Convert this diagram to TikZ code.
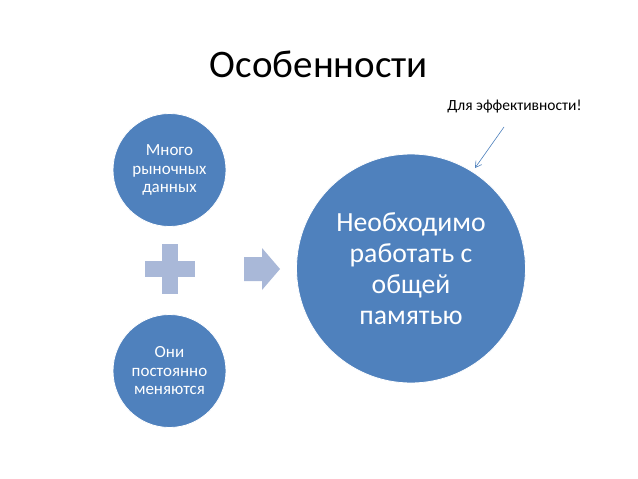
\documentclass[tikz,border=0pt]{standalone}
\usepackage{fontspec}
\setmainfont{Carlito}
\usetikzlibrary{arrows.meta}
\definecolor{cblue}{HTML}{4F81BD}
\definecolor{cpale}{HTML}{A9B8D8}
\definecolor{carrow}{HTML}{4A7EBB}
\tikzset{
  circ/.style={circle, fill=cblue, draw=white, line width=0.8pt, inner sep=0pt, text=white, align=center},
  smallc/.style={circ, minimum size=113pt, font=\fontsize{17}{18.5}\selectfont},
  bigc/.style={circ, minimum size=229pt, font=\fontsize{27.7}{31}\selectfont},
}
\begin{document}
\begin{tikzpicture}[x=1pt,y=-1pt]
\useasboundingbox (0,0) rectangle (638,479);
\node[font=\fontsize{39}{42}\selectfont] (title) at (319,64) {Особенности};
\node[smallc] (c1) at (169.5,170) {Много\\рыночных\\данных};
\node[smallc] (c2) at (169.5,371) {Они\\постоянно\\меняются};
\node[bigc] (c3) at (411,268.5) {Необходимо\\работать с\\общей\\памятью};
% plus
\fill[cpale] (161.5,244) rectangle (177.5,294);
\fill[cpale] (144.5,261) rectangle (194.5,277);
\coordinate (plus) at (169.5,269);
% block arrow
\fill[cpale] (244,257) -- (262,257) -- (262,248) -- (280,269) -- (262,290) -- (262,281) -- (244,281) -- cycle;
\node[font=\fontsize{15.5}{17}\selectfont] (note) at (514.5,107) {Для эффективности!};
\coordinate (ns) at (504,127);
\coordinate (ne) at (475,168);
\draw[carrow, line width=0.6pt, -{Straight Barb[length=6pt,width=7pt]}] (ns) -- (ne);
\end{tikzpicture}
\end{document}
